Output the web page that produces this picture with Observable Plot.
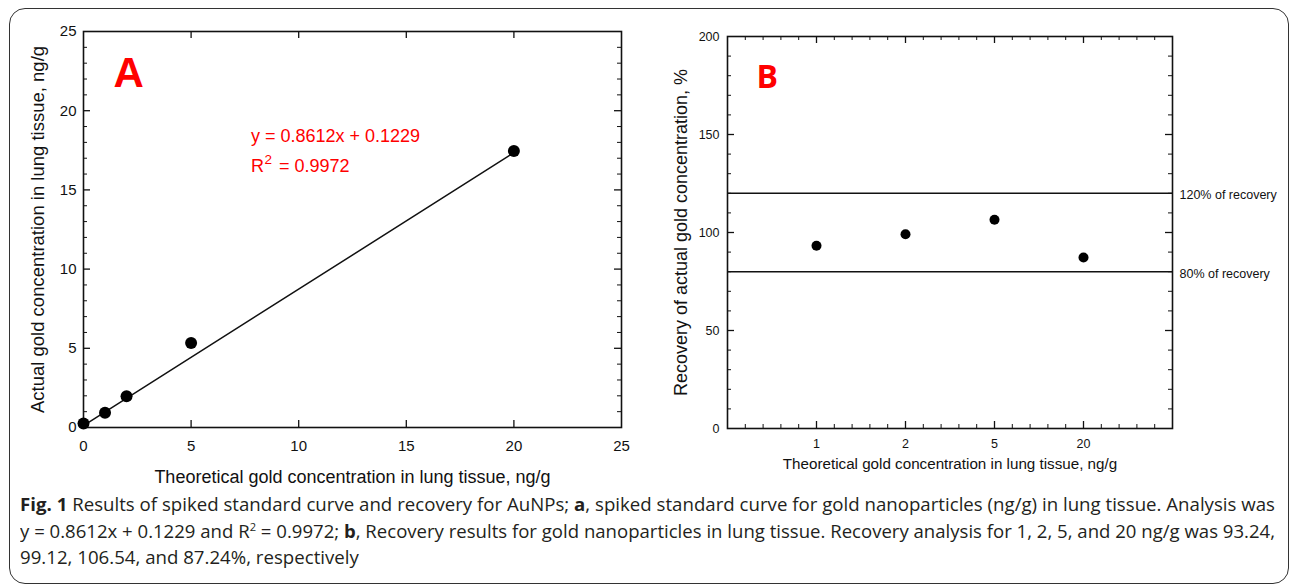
<!DOCTYPE html>
<html><head><meta charset="utf-8">
<script src="https://cdn.jsdelivr.net/npm/d3@7"></script>
<script src="https://cdn.jsdelivr.net/npm/@observablehq/plot@0.6"></script>
<style>
html,body{margin:0;padding:0;background:#fff}
body{width:1290px;height:588px;overflow:hidden;position:relative;font-family:"Liberation Sans",Arial,sans-serif}
#box{position:absolute;left:9px;top:8px;width:1280px;height:576px;box-sizing:border-box;border:1.6px solid #333;border-radius:16px}
#A{position:absolute;left:0;top:0}
#B{position:absolute;left:660px;top:0}
#cap{position:absolute;left:20px;top:491px;font-family:"Open Sans",sans-serif;font-size:17.5px;line-height:26.5px;color:#231f20;white-space:nowrap}
#cap > div{width:max-content;transform-origin:0 50%}
#cap sup{font-size:60%;line-height:0;vertical-align:0.7em}
svg{overflow:visible}
</style></head>
<body>
<div id="box"></div>
<div id="A"></div><div id="B"></div>
<div id="cap"></div>
<script>
// ---- Panel A: spiked standard curve ----
const theoretical = [0, 1, 2, 5, 20];
const actual = [0.25, 0.93, 1.98, 5.33, 17.45];
const fitSlope = 0.8612;
const fitIntercept = 0.1229;
const fitR2 = 0.9972;
const fitRange = [0, 20];
const ticksA = [0, 5, 10, 15, 20, 25];
const labelAx = "Theoretical gold concentration in lung tissue, ng/g";
const labelAy = "Actual gold concentration in lung tissue, ng/g";

// ---- Panel B: recovery ----
const spikeLevels = ["1", "2", "5", "20"];
const recovery = [93.24, 99.12, 106.54, 87.24];
const limits = [120, 80];
const ticksBy = [0, 50, 100, 150, 200];
const labelBx = "Theoretical gold concentration in lung tissue, ng/g";
const labelBy = "Recovery of actual gold concentration, %";

const RED = "#ff0000";
const INK = "#111";
const ARIAL = "Liberation Sans, Arial, sans-serif";

function boxTicks(xVals, yVals, fw, fh, len, sw) {
  const o = {stroke: INK, strokeWidth: sw};
  return [
    Plot.ruleX(xVals, {x: d => d, insetTop: fh - len, ...o}),
    Plot.ruleX(xVals, {x: d => d, insetBottom: fh - len, ...o}),
    Plot.ruleY(yVals, {y: d => d, insetRight: fw - len, ...o}),
    Plot.ruleY(yVals, {y: d => d, insetLeft: fw - len, ...o})
  ];
}

// Panel A geometry
const A = {width: 660, height: 490, ml: 83, mr: 39, mt: 31, mb: 63};
const fwA = A.width - A.ml - A.mr, fhA = A.height - A.mt - A.mb;
const majA = [5, 10, 15, 20];
const minAy = d3.range(1, 25).filter(v => v % 5 !== 0);

const plotA = Plot.plot({
  width: A.width, height: A.height,
  marginLeft: A.ml, marginRight: A.mr, marginTop: A.mt, marginBottom: A.mb,
  x: {domain: [0, 25]},
  y: {domain: [0, 25]},
  style: {fontFamily: ARIAL, fontSize: "15px", color: "#111", background: "transparent", overflow: "visible"},
  marks: [
    ...boxTicks(majA, majA, fwA, fhA, 7, 1.3),
    ...boxTicks([], minAy, fwA, fhA, 4, 1),
    Plot.frame({stroke: INK, strokeWidth: 1.6}),
    Plot.axisX({ticks: ticksA, tickSize: 0, tickPadding: 13, fontSize: 15, label: null}),
    Plot.axisY({ticks: ticksA, tickSize: 0, tickPadding: 7, fontSize: 15, label: null}),
    Plot.line(fitRange, {x: d => d, y: d => fitSlope * d + fitIntercept, stroke: INK, strokeWidth: 1.5}),
    Plot.dot(theoretical, {x: d => d, y: (d, i) => actual[i], r: 6, fill: "#000"}),
    Plot.text([`y = ${fitSlope}x + ${fitIntercept}`], {x: 7.78, y: 18.37, textAnchor: "start", fontSize: 18, fill: RED}),
    Plot.text(["R"], {x: 7.78, y: 16.48, textAnchor: "start", fontSize: 18, fill: RED}),
    Plot.text(["2"], {x: 7.78, y: 16.48, dx: 13.5, dy: -7, textAnchor: "start", fontSize: 13.5, fill: RED}),
    Plot.text([`= ${fitR2}`], {x: 7.78, y: 16.48, dx: 28, textAnchor: "start", fontSize: 18, fill: RED}),
    Plot.text(["A"], {frameAnchor: "top-left", dx: 30, dy: 26, lineAnchor: "top", textAnchor: "start", fontSize: 42, fontWeight: "bold", fill: RED}),
    Plot.text([labelAx], {frameAnchor: "bottom", dy: 55, textAnchor: "middle", fontSize: 18}),
    Plot.text([labelAy], {frameAnchor: "left", dx: -45, rotate: -90, textAnchor: "middle", fontSize: 18.5})
  ]
});
document.getElementById("A").appendChild(plotA);

// Panel B geometry
const B = {width: 630, height: 490, ml: 67, mr: 118, mt: 36, mb: 62};
const fwB = B.width - B.ml - B.mr, fhB = B.height - B.mt - B.mb;
const xPos = spikeLevels.map((d, i) => i + 1);
const minBx = d3.range(1, 25).map(i => i / 5).filter(v => !Number.isInteger(v));
const minBy = d3.range(10, 200, 10).filter(v => v % 50 !== 0);

const plotB = Plot.plot({
  width: B.width, height: B.height,
  marginLeft: B.ml, marginRight: B.mr, marginTop: B.mt, marginBottom: B.mb,
  x: {domain: [0, spikeLevels.length + 1]},
  y: {domain: [0, 200]},
  style: {fontFamily: ARIAL, fontSize: "12.5px", color: "#111", background: "transparent", overflow: "visible"},
  marks: [
    ...boxTicks(xPos, [50, 100, 150], fwB, fhB, 7, 1.3),
    ...boxTicks(minBx, minBy, fwB, fhB, 4, 1),
    Plot.frame({stroke: INK, strokeWidth: 1.6}),
    Plot.ruleY(limits, {y: d => d, stroke: INK, strokeWidth: 1.5}),
    Plot.text(limits, {y: d => d, frameAnchor: "right", dx: 7, dy: 2, textAnchor: "start", text: d => `${d}% of recovery`, fontSize: 12.5}),
    Plot.axisX({ticks: xPos, tickFormat: d => spikeLevels[d - 1], tickSize: 0, tickPadding: 11, fontSize: 12.5, label: null}),
    Plot.axisY({ticks: ticksBy, tickSize: 0, tickPadding: 8, fontSize: 12.5, label: null}),
    Plot.dot(recovery, {x: (d, i) => xPos[i], y: d => d, r: 5, fill: "#000"}),
    Plot.text(["B"], {frameAnchor: "top-left", dx: 29, dy: 29, lineAnchor: "top", textAnchor: "start", fontSize: 32, fontWeight: "bold", fontFamily: "Open Sans, sans-serif", fill: RED}),
    Plot.text([labelBx], {frameAnchor: "bottom", dy: 40, textAnchor: "middle", fontSize: 15.2}),
    Plot.text([labelBy], {frameAnchor: "left", dx: -46, rotate: -90, textAnchor: "middle", fontSize: 18})
  ]
});
document.getElementById("B").appendChild(plotB);

// Caption (condensed by horizontal scaling to the reference line width)
const pct = recovery.map(v => v.toFixed(2));
const cap = document.getElementById("cap");
cap.innerHTML =
  `<div id="l1"><b>Fig. 1</b> Results of spiked standard curve and recovery for AuNPs; <b>a</b>, spiked standard curve for gold nanoparticles (ng/g) in lung tissue. Analysis was</div>` +
  `<div id="l2">y = ${fitSlope}x + ${fitIntercept} and R<sup>2</sup> = ${fitR2}; <b>b</b>, Recovery results for gold nanoparticles in lung tissue. Recovery analysis for ${spikeLevels.slice(0, 3).join(", ")}, and ${spikeLevels[3]} ng/g was ${pct[0]},</div>` +
  `<div id="l3">${pct.slice(1, 3).join(", ")}, and ${pct[3]}%, respectively</div>`;
const targetW = 1255;
const s1 = targetW / document.getElementById("l1").getBoundingClientRect().width;
const s2 = targetW / document.getElementById("l2").getBoundingClientRect().width;
document.getElementById("l1").style.transform = `scaleX(${s1})`;
document.getElementById("l2").style.transform = `scaleX(${s2})`;
document.getElementById("l3").style.transform = `scaleX(${s1})`;
</script>
</body></html>
